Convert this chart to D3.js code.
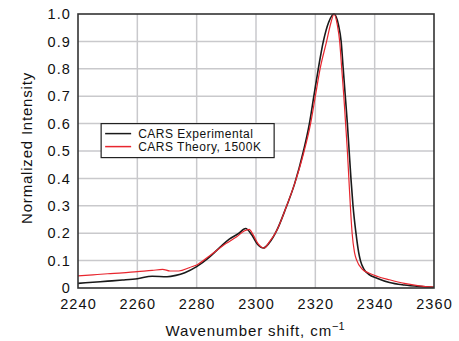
<!DOCTYPE html>
<html>
<head>
<meta charset="utf-8">
<script src="https://cdn.jsdelivr.net/npm/d3@7"></script>
<style>
  body { margin: 0; background: #fff; }
  text { font-family: "Liberation Sans", Arial, Helvetica, sans-serif; fill: #111; }
</style>
</head>
<body>
<div id="chart"></div>
<script>
// wavenumber shift (cm-1) and normalized intensity
const expShift = [2240, 2245, 2250, 2255, 2260, 2265, 2270, 2273, 2276, 2280, 2284, 2288, 2291, 2294,
    2296.5, 2298.5, 2300.5, 2302.5, 2304.5, 2307, 2310, 2313, 2316, 2318, 2319.5, 2321, 2322.7, 2324.5,
    2326.3, 2327.8, 2328.7, 2329.4, 2330.1, 2330.8, 2331.4, 2332, 2332.7, 2333.7, 2334.6, 2335.2,
    2336.3, 2338, 2341, 2345, 2350, 2355, 2360];
const expValues = [0.017, 0.021, 0.025, 0.029, 0.034, 0.043, 0.041, 0.046, 0.056, 0.078, 0.11, 0.15, 0.178, 0.198,
    0.217, 0.195, 0.16, 0.146, 0.165, 0.21, 0.29, 0.38, 0.50, 0.60, 0.70, 0.80, 0.90, 0.97,
    1.0, 0.96, 0.90, 0.80, 0.70, 0.60, 0.50, 0.40, 0.30, 0.20, 0.13, 0.10,
    0.07, 0.05, 0.035, 0.02, 0.011, 0.006, 0.003];

const theoryShift = [2240, 2245, 2250, 2255, 2260, 2265, 2268.5, 2271, 2274, 2277.7, 2280, 2284.4, 2290, 2293.5,
    2296, 2297.7, 2299, 2300.8, 2302.7, 2304.5, 2307, 2310, 2313, 2316, 2318.4, 2320, 2321.6, 2323.8,
    2325.3, 2326.3, 2327.4, 2328.2, 2328.9, 2329.6, 2330.2, 2330.8, 2331.3, 2331.8, 2332.4, 2333.2,
    2334, 2335.7, 2338, 2341, 2345, 2350, 2355, 2360];
const theoryValues = [0.044, 0.048, 0.052, 0.055, 0.060, 0.064, 0.068, 0.062, 0.062, 0.075, 0.084, 0.118, 0.163, 0.187,
    0.208, 0.214, 0.195, 0.16, 0.146, 0.168, 0.21, 0.29, 0.38, 0.49, 0.60, 0.70, 0.80, 0.90,
    0.97, 1.0, 0.96, 0.90, 0.80, 0.70, 0.60, 0.50, 0.40, 0.30, 0.20, 0.13,
    0.10, 0.07, 0.055, 0.042, 0.03, 0.017, 0.008, 0.003];

const xTicks = [2240, 2260, 2280, 2300, 2320, 2340, 2360];
const yTicks = [0, 0.1, 0.2, 0.3, 0.4, 0.5, 0.6, 0.7, 0.8, 0.9, 1.0];
const legendLabels = ["CARS Experimental", "CARS Theory, 1500K"];
const colors = ["#1a1a1a", "#e8262e"];

const width = 459, height = 341;
const margin = { top: 14, right: 25, bottom: 53, left: 78 };
const w = width - margin.left - margin.right;
const h = height - margin.top - margin.bottom;

const svg = d3.select("#chart").append("svg")
    .attr("width", width)
    .attr("height", height);
const g = svg.append("g")
    .attr("transform", `translate(${margin.left}, ${margin.top})`);

const x = d3.scaleLinear().domain([2240, 2360]).range([0, w]);
const y = d3.scaleLinear().domain([0, 1]).range([h, 0]);

// grid
g.append("g").selectAll("line").data(xTicks.slice(1, -1)).join("line")
    .attr("x1", d => x(d)).attr("x2", d => x(d))
    .attr("y1", 0).attr("y2", h)
    .attr("stroke", "#c9c9cc").attr("stroke-width", 1.5);
g.append("g").selectAll("line").data(yTicks.slice(1, -1)).join("line")
    .attr("y1", d => y(d)).attr("y2", d => y(d))
    .attr("x1", 0).attr("x2", w)
    .attr("stroke", "#c9c9cc").attr("stroke-width", 1.5);

// axes, labels only
const xAxis = g.append("g")
    .attr("transform", `translate(0, ${h})`)
    .call(d3.axisBottom(x).tickValues(xTicks).tickSize(0).tickPadding(10).tickFormat(d3.format("d")));
const yAxis = g.append("g")
    .call(d3.axisLeft(y).tickValues(yTicks).tickSize(0).tickPadding(7)
        .tickFormat(d => d === 0 ? "0" : d3.format(".1f")(d)));
[xAxis, yAxis].forEach(a => {
    a.select(".domain").remove();
    a.selectAll("text")
        .attr("font-family", "'Liberation Sans', Arial, sans-serif")
        .attr("font-size", 14.5)
        .attr("letter-spacing", 1.1)
        .attr("fill", "#111");
});
xAxis.selectAll("text").attr("dy", "0.75em");

// curves
const line = d3.line().curve(d3.curveMonotoneX)
    .x(d => x(d[0])).y(d => y(d[1]));
const expData = d3.zip(expShift, expValues);
const theoryData = d3.zip(theoryShift, theoryValues);

g.append("path").datum(expData)
    .attr("d", line).attr("fill", "none")
    .attr("stroke", colors[0]).attr("stroke-width", 1.6);
g.append("path").datum(theoryData)
    .attr("d", line).attr("fill", "none")
    .attr("stroke", colors[1]).attr("stroke-width", 1.2);

// frame
g.append("rect")
    .attr("width", w).attr("height", h)
    .attr("fill", "none").attr("stroke", "#333").attr("stroke-width", 1.6);

// legend
const legend = g.append("g").attr("transform", `translate(${x(2247.8)}, ${y(0.6)})`);
legend.append("rect")
    .attr("width", 173).attr("height", 34)
    .attr("fill", "#fff").attr("stroke", "#222").attr("stroke-width", 1.2);
legendLabels.forEach((lab, i) => {
    const ly = 10 + i * 13;
    legend.append("line")
        .attr("x1", 4).attr("x2", 30).attr("y1", ly).attr("y2", ly)
        .attr("stroke", colors[i]).attr("stroke-width", 1.5);
    legend.append("text")
        .attr("x", 37).attr("y", ly).attr("dy", "0.36em")
        .attr("font-size", 12).attr("letter-spacing", 0.5)
        .text(lab);
});

// axis titles
svg.append("text")
    .attr("transform", `translate(31.5, ${margin.top + h / 2 - 3}) rotate(-90)`)
    .attr("text-anchor", "middle")
    .attr("font-size", 15).attr("letter-spacing", 0.8)
    .text("Normalized Intensity");

const xt = svg.append("text")
    .attr("x", margin.left + w / 2 - 1).attr("y", 335.5)
    .attr("text-anchor", "middle")
    .attr("font-size", 15).attr("letter-spacing", 0.9)
    .text("Wavenumber shift, cm");
xt.append("tspan")
    .attr("font-size", 11).attr("dy", -6).attr("letter-spacing", 0)
    .text("\u22121");
</script>
</body>
</html>
